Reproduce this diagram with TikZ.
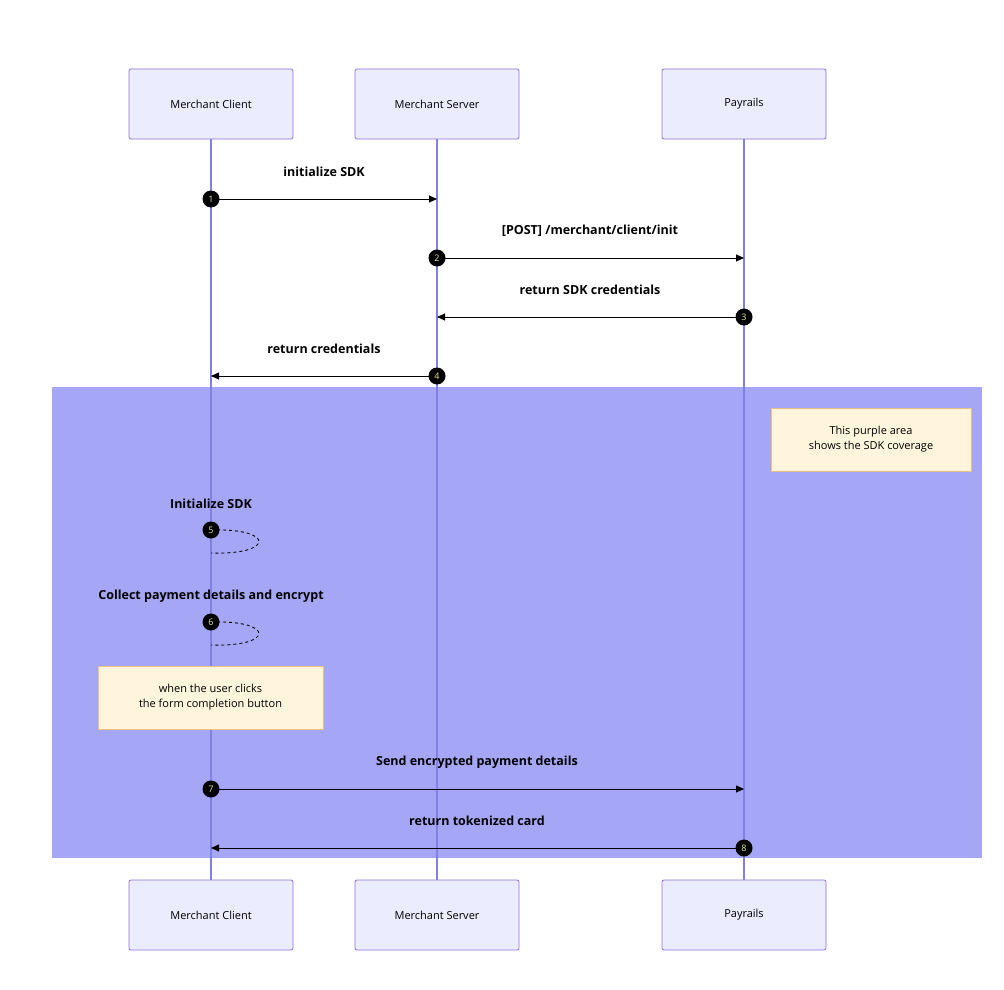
\documentclass[tikz,border=0pt]{standalone}
\usepackage{fontspec}
\setmainfont{Open Sans}
\usetikzlibrary{arrows.meta}
\definecolor{boxfill}{HTML}{ECECFF}
\definecolor{boxline}{HTML}{9370DB}
\definecolor{lifeln}{HTML}{8080E8}
\definecolor{area}{HTML}{A6A6F7}
\definecolor{notefill}{HTML}{FFF5DC}
\definecolor{noteline}{HTML}{F0C080}
\definecolor{numtxt}{HTML}{E8E890}
\tikzset{
 actor/.style={draw=boxline,fill=boxfill,minimum width=164pt,minimum height=70pt,rounded corners=2pt,font=\fontsize{11}{13}\selectfont,line width=0.8pt},
 note/.style={draw=noteline,fill=notefill,align=center,font=\fontsize{11}{15}\selectfont,line width=0.8pt},
 num/.style={circle,fill=black,inner sep=0pt,minimum size=17pt,text=numtxt,font=\fontsize{9}{9}\selectfont},
 msg/.style={-{Triangle[length=8pt,width=7pt]},line width=0.9pt},
 lbl/.style={font=\bfseries\fontsize{12.5}{14}\selectfont},
 life/.style={draw=lifeln,line width=1.2pt},
 loop/.style={dashed,dash pattern=on 3pt off 3pt,line width=0.9pt}
}
\begin{document}
\begin{tikzpicture}[x=1pt,y=-1pt]
\useasboundingbox (0,0) rectangle (1004,990);
\fill[white] (0,0) rectangle (1004,990);
\fill[area] (52,387) rectangle (982,858);
\node[actor] (c1) at (211,104) {Merchant Client};
\node[actor] (s1) at (437,104) {Merchant Server};
\node[actor] (p1) at (744,104) {Payrails};
\node[actor] (c2) at (211,915) {Merchant Client};
\node[actor] (s2) at (437,915) {Merchant Server};
\node[actor] (p2) at (744,915) {Payrails};
\draw[life] (c1) -- (c2);
\draw[life] (s1) -- (s2);
\draw[life] (p1) -- (p2);
\node[note,minimum width=200pt,minimum height=63pt] (n1) at (871,439.5) {This purple area\\shows the SDK coverage};
\node[note,minimum width=225pt,minimum height=63pt] (n2) at (210.5,697.5) {when the user clicks\\the form completion button};
% messages
\coordinate (a1) at (211,199); \coordinate (b1) at (437,199);
\draw[msg] (a1) -- (b1);
\node[lbl] at (324,172) {initialize SDK};
\node[num] at (a1) {1};
\coordinate (a2) at (437,258); \coordinate (b2) at (744,258);
\draw[msg] (a2) -- (b2);
\node[lbl] at (590,231) {[POST] /merchant/client/init};
\node[num] at (a2) {2};
\coordinate (a3) at (744,317); \coordinate (b3) at (437,317);
\draw[msg] (a3) -- (b3);
\node[lbl] at (590,290) {return SDK credentials};
\node[num] at (a3) {3};
\coordinate (a4) at (437,376); \coordinate (b4) at (211,376);
\draw[msg] (a4) -- (b4);
\node[lbl] at (324,349) {return credentials};
\node[num] at (a4) {4};
\coordinate (a5) at (211,530); \coordinate (b5) at (211,553);
\draw[loop] (a5) .. controls (275,528) and (275,555) .. (b5);
\node[lbl] at (211,504) {Initialize SDK};
\node[num] at (a5) {5};
\coordinate (a6) at (211,622); \coordinate (b6) at (211,645);
\draw[loop] (a6) .. controls (275,620) and (275,647) .. (b6);
\node[lbl] at (211,596) {Collect payment details and encrypt};
\node[num] at (a6) {6};
\coordinate (a7) at (211,789); \coordinate (b7) at (744,789);
\draw[msg] (a7) -- (b7);
\node[lbl] at (477,762) {Send encrypted payment details};
\node[num] at (a7) {7};
\coordinate (a8) at (744,848); \coordinate (b8) at (211,848);
\draw[msg] (a8) -- (b8);
\node[lbl] at (477,821) {return tokenized card};
\node[num] at (a8) {8};
\end{tikzpicture}
\end{document}
